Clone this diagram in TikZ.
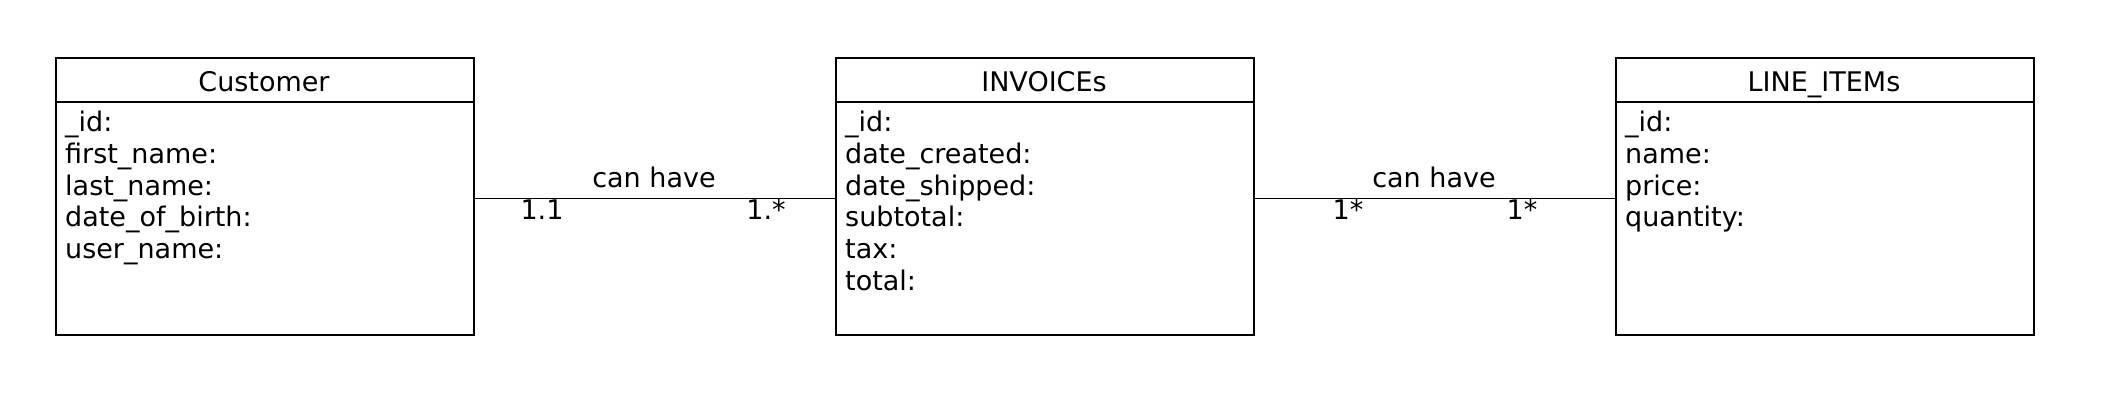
\documentclass[tikz,border=0pt]{standalone}
\usepackage{fontspec}
\setmainfont{DejaVu Sans}
\usetikzlibrary{calc}
\begin{document}
\begin{tikzpicture}[x=1bp,y=-1bp,
  classbox/.style={draw=black,line width=1.8bp,rectangle,minimum width=418bp,minimum height=277bp,inner sep=0pt,anchor=north west},
  txt/.style={font=\fontsize{27bp}{32bp}\selectfont,inner sep=0pt,text=black},
  attr/.style={txt,anchor=base west},
  ttl/.style={txt,anchor=base},
  conn/.style={draw=black,line width=1.8bp},
  sep/.style={draw=black,line width=1.8bp}]
\useasboundingbox[fill=white] (0,0) rectangle (2118,418);

% Customer
\node[classbox] (cust) at (55,57) {};
\node[ttl] (custt) at (264,91.7) {Customer};
\draw[sep] (cust.west |- 0,102.3) -- (cust.east |- 0,102.3);
\foreach \t [count=\i from 0] in {\_id:,first\_name:,last\_name:,date\_of\_birth:,user\_name:}
  \node[attr] (custa\i) at (65,131.7+31.7*\i) {\t};

% INVOICEs
\node[classbox] (inv) at (835,57) {};
\node[ttl] (invt) at (1044,91.7) {INVOICEs};
\draw[sep] (inv.west |- 0,102.3) -- (inv.east |- 0,102.3);
\foreach \t [count=\i from 0] in {\_id:,date\_created:,date\_shipped:,subtotal:,tax:,total:}
  \node[attr] (inva\i) at (845,131.7+31.7*\i) {\t};

% LINE_ITEMs
\node[classbox] (li) at (1615,57) {};
\node[ttl] (lit) at (1824,91.7) {LINE\_ITEMs};
\draw[sep] (li.west |- 0,102.3) -- (li.east |- 0,102.3);
\foreach \t [count=\i from 0] in {\_id:,name:,price:,quantity:}
  \node[attr] (lia\i) at (1625,131.7+31.7*\i) {\t};

% connectors
\draw[conn] ($(cust.east)+(0,2)$) -- ($(inv.west)+(0,2)$);
\draw[conn] ($(inv.east)+(0,2)$) -- ($(li.west)+(0,2)$);

\node[ttl] (l1) at (654,187.3) {can have};
\node[ttl] (m1a) at (542,219.3) {1.1};
\node[ttl] (m1b) at (766,219.3) {1.*};
\node[ttl] (l2) at (1434,187.3) {can have};
\node[ttl] (m2a) at (1348,219.3) {1*};
\node[ttl] (m2b) at (1522,219.3) {1*};
\end{tikzpicture}
\end{document}
